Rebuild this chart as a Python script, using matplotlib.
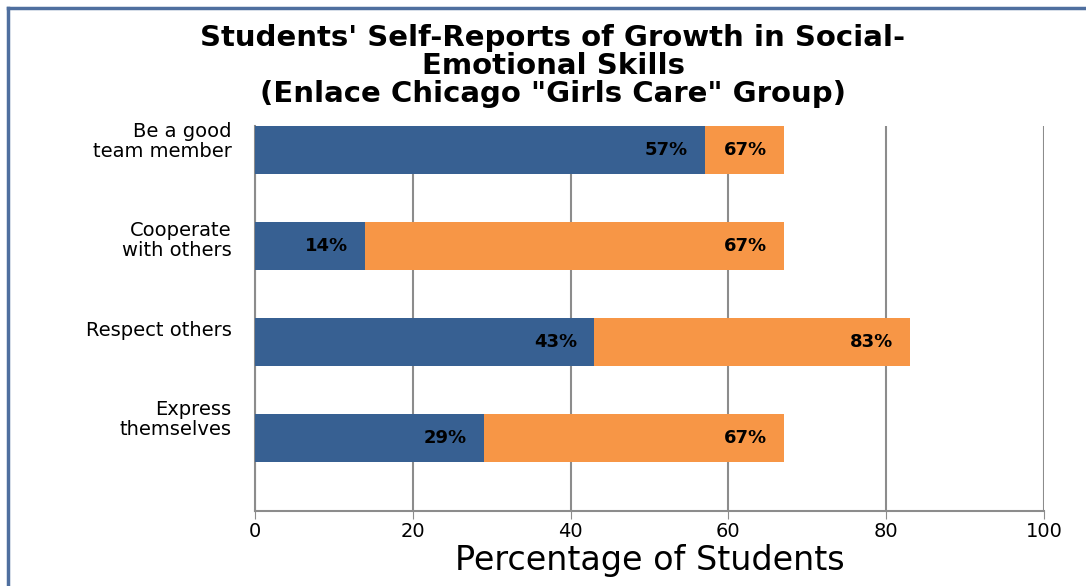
import matplotlib.pyplot as plt
from matplotlib.lines import Line2D
from matplotlib.transforms import ScaledTranslation

plt.rcParams['font.family'] = ['DejaVu Sans']

skills = ['Be a good\nteam member', 'Cooperate\nwith others', 'Respect others', 'Express\nthemselves']
blue_vals = [57, 14, 43, 29]
orange_vals = [67, 67, 83, 67]
xticks = [0, 20, 40, 60, 80, 100]

blue = '#376092'
orange = '#F79646'
grid_c = '#8c8c8c'

fig = plt.figure(figsize=(10.86, 5.86), dpi=100)
ax = fig.add_axes([255 / 1086, 1 - 511 / 586, (1044 - 255) / 1086, (511 - 126) / 586])

ypos = list(range(len(skills)))
ax.barh(ypos, orange_vals, height=0.5, color=orange, zorder=2)
ax.barh(ypos, blue_vals, height=0.5, color=blue, zorder=3)

for y, b, o in zip(ypos, blue_vals, orange_vals):
    ax.annotate(f'{b}%', (b, y), xytext=(-17, 0), textcoords='offset pixels',
                ha='right', va='center', fontsize=13, fontweight='bold', zorder=4)
    ax.annotate(f'{o}%', (o, y), xytext=(-17, 0), textcoords='offset pixels',
                ha='right', va='center', fontsize=13, fontweight='bold', zorder=4)

ax.set_xlim(0, 100)
ax.set_ylim(3.76, -0.25)
ax.set_xticks(xticks)
ax.set_yticks(ypos)
ax.set_yticklabels(skills, fontsize=14, linespacing=1.05)
ax.tick_params(axis='y', length=0, pad=17)
ax.tick_params(axis='x', length=6, color=grid_c, labelsize=14, pad=2)
ax.grid(axis='x', color=grid_c, linewidth=1.5, zorder=0)
ax.set_axisbelow(True)
for s in ['top', 'right']:
    ax.spines[s].set_visible(False)
for s in ['left', 'bottom']:
    ax.spines[s].set_color(grid_c)
    ax.spines[s].set_linewidth(1.5)

# category labels sit a little above the bar centres in the original
for lbl, dy in zip(ax.get_yticklabels(), [11, 8, 14, 21]):
    lbl.set_transform(lbl.get_transform() + ScaledTranslation(0, dy / 100, fig.dpi_scale_trans))

ax.set_xlabel('Percentage of Students', fontsize=24, labelpad=2)

fig.text(553 / 1086, 1 - 66 / 586,
         'Students\' Self-Reports of Growth in Social-\nEmotional Skills\n(Enlace Chicago "Girls Care" Group)',
         ha='center', va='center', fontsize=21, fontweight='bold', linespacing=1.0)

# frame around the chart
fig.add_artist(Line2D([8 / 1086, 1], [1 - 8 / 586, 1 - 8 / 586], color='#4f6f9f', linewidth=2.5))
fig.add_artist(Line2D([8 / 1086, 8 / 1086], [0, 1 - 8 / 586], color='#4f6f9f', linewidth=2.5))

fig.savefig('out.png', dpi=100)
